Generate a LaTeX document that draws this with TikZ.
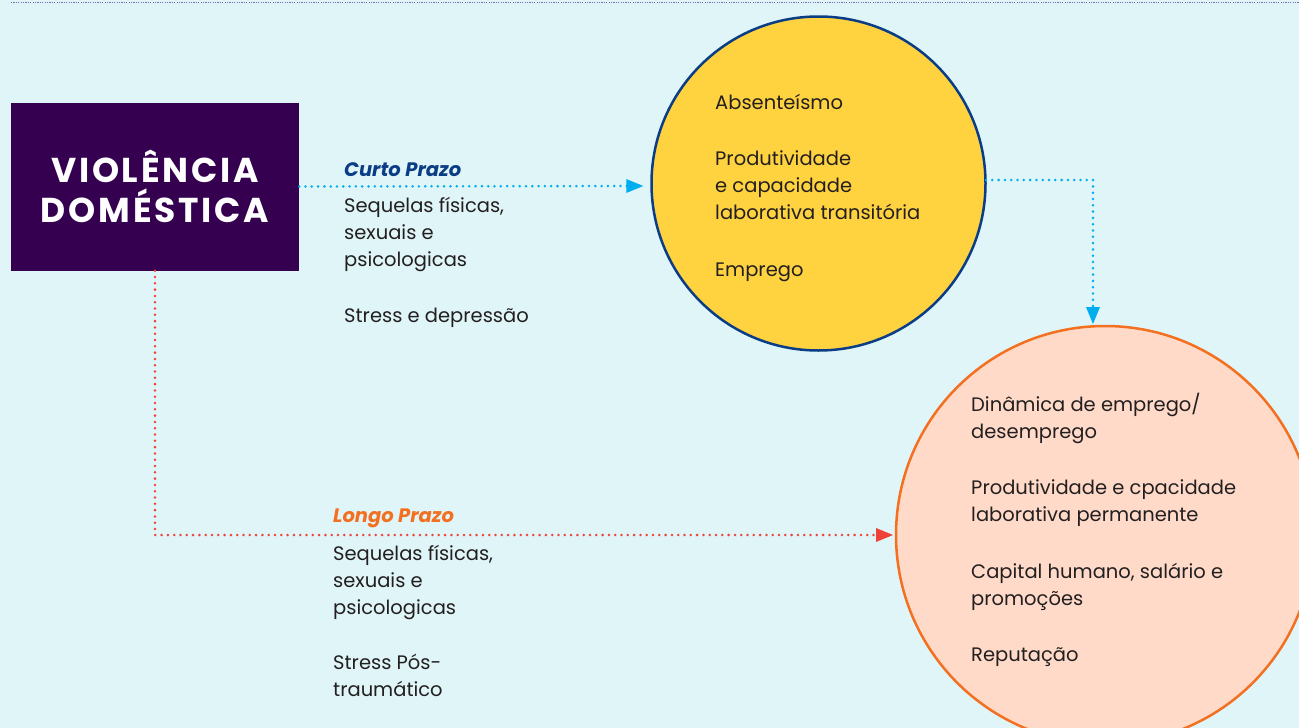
\documentclass[tikz,border=0pt]{standalone}
\usepackage{fontspec}
\setmainfont{Poppins}
\usetikzlibrary{arrows.meta,calc}
\definecolor{bgc}{HTML}{DFF5F8}
\definecolor{boxc}{HTML}{35004F}
\definecolor{ycol}{HTML}{FFD23F}
\definecolor{ybord}{HTML}{0A3D85}
\definecolor{ocol}{HTML}{FFDAC8}
\definecolor{obord}{HTML}{F37021}
\definecolor{bluec}{HTML}{00AEEF}
\definecolor{redc}{HTML}{EF4136}
\definecolor{txt}{HTML}{231F20}
\definecolor{topl}{HTML}{7A6AAE}
\begin{document}
\begin{tikzpicture}[x=1pt,y=-1pt,
  body/.style={anchor=base west,align=left,inner sep=0pt,text=txt,font=\fontsize{19.5}{27}\selectfont},
  head/.style={anchor=base west,inner sep=0pt,font=\fontsize{19.5}{27}\selectfont\bfseries\itshape},
  dotline/.style={line width=2.8pt,dash pattern=on 0pt off 6.3pt,line cap=round}
]
\useasboundingbox (0,0) rectangle (1299,728);
\fill[bgc] (0,0) rectangle (1299,728);
\draw[topl,line width=1.8pt,dash pattern=on 1.2pt off 1.2pt] (11,2.5) -- (1299,2.5);

\node[fill=boxc,minimum width=288pt,minimum height=168pt,inner sep=0pt,text=white,align=center,font=\fontsize{34.5}{40}\selectfont\bfseries\addfontfeatures{LetterSpace=8}] (box) at (155,186.5) {VIOLÊNCIA\\DOMÉSTICA};

\node[circle,fill=ycol,draw=ybord,line width=2.5pt,minimum size=334pt,inner sep=0pt] (ycirc) at (818.5,183.5) {};
\node[circle,fill=ocol,draw=obord,line width=2.5pt,minimum size=418pt,inner sep=0pt] (ocirc) at (1105,535) {};

\draw[bluec,dotline] (box.east) -- ($(ycirc.west)+(-8,2.5)$);
\fill[bluec] ($(ycirc.west)+(-7,2.5)$) -- ++(-17,-7) -- ++(0,14) -- cycle;

\node[head,text=ybord] (ct) at (344,176) {Curto Prazo};
\node[body] (ct1) at (344,266.5) {Sequelas físicas,\\sexuais e\\psicologicas};
\node[body] (ct2) at (344,322.5) {Stress e depressão};

\node[body] (y1) at (715,109.5) {Absenteísmo};
\node[body] (y2) at (715,219.5) {Produtividade\\e capacidade\\laborativa transitória};
\node[body] (y3) at (715,276.5) {Emprego};

\node[body] (o1) at (971,438.5) {Dinâmica de emprego/\\desemprego};
\node[body] (o2) at (971,521.5) {Produtividade e cpacidade\\laborativa permanente};
\node[body] (o3) at (971,605.5) {Capital humano, salário e\\promoções};
\node[body] (o4) at (971,661.5) {Reputação};

\node[head,text=obord] (lt) at (333,522) {Longo Prazo};
\node[body] (lt1) at (333,614.5) {Sequelas físicas,\\sexuais e\\psicologicas};
\node[body] (lt2) at (333,696.5) {Stress Pós-\\traumático};

\coordinate (bturn) at (1093,180);
\draw[bluec,dotline] (986,180) -- (bturn) -- (1093,308);
\fill[bluec] (1093,324) -- ++(-7,-17) -- ++(14,0) -- cycle;

\draw[redc,dotline] (box.south) -- (155,535) -- (876,535);
\fill[redc] (893,535) -- ++(-17,-7) -- ++(0,14) -- cycle;
\end{tikzpicture}
\end{document}
